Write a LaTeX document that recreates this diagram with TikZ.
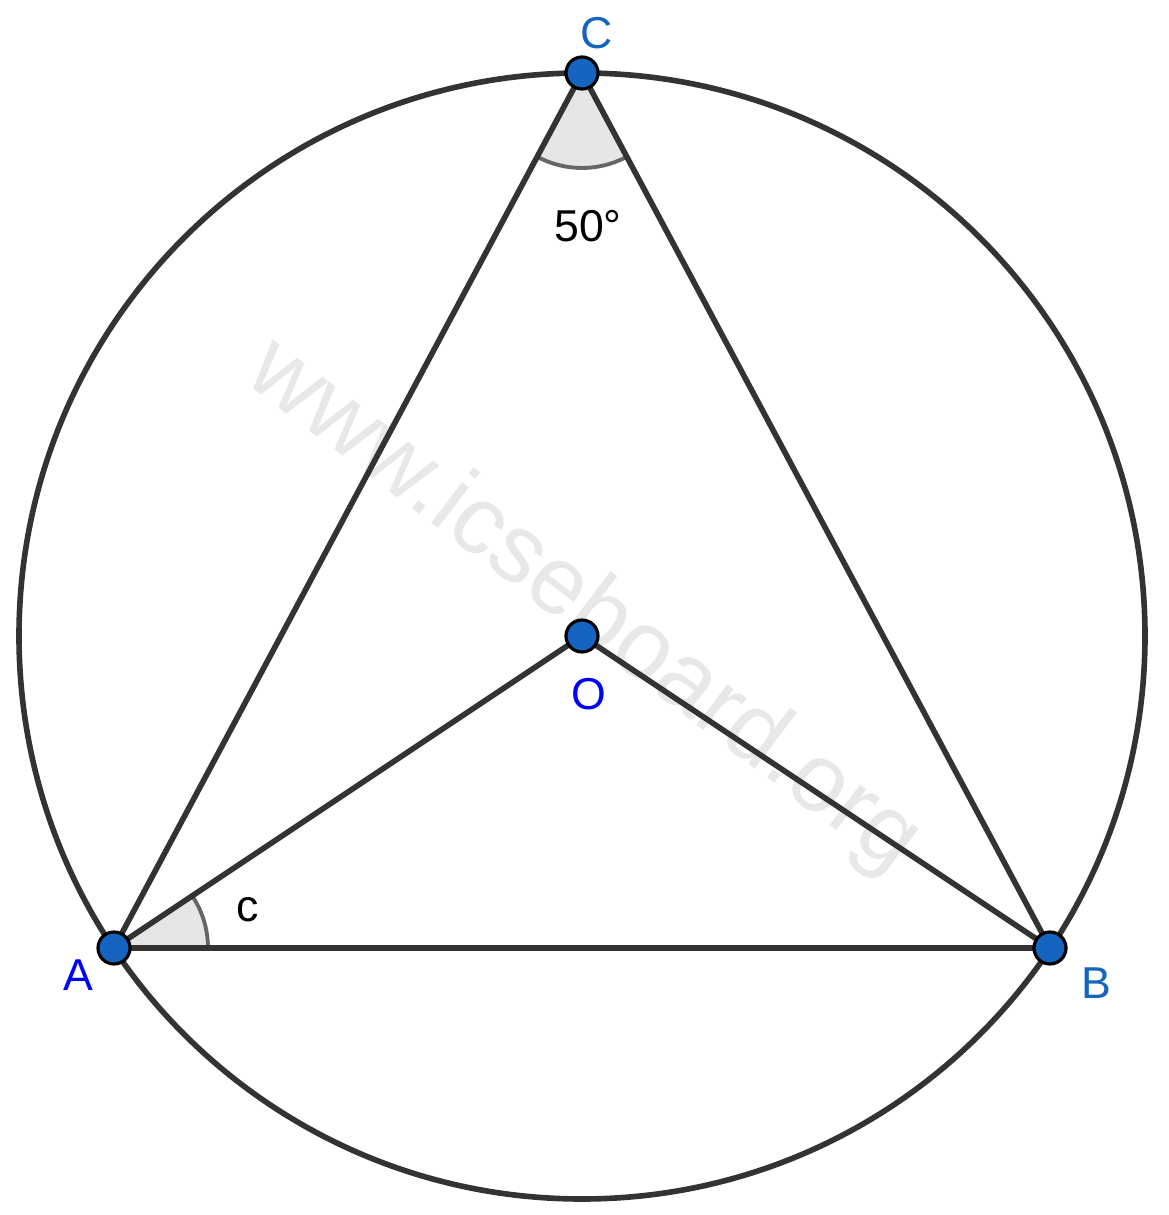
\documentclass[tikz,border=0pt]{standalone}
\usepackage{fontspec}
\setmainfont{Liberation Sans}
\usepackage{tikz}
\usetikzlibrary{positioning}
\definecolor{linegray}{HTML}{333333}
\definecolor{dotblue}{HTML}{1565C0}
\definecolor{wedgegray}{HTML}{E6E6E6}
\definecolor{arcgray}{HTML}{666666}
\definecolor{markgray}{HTML}{E8E8E8}
\tikzset{
	seg/.style={draw=linegray, line width=1.6pt},
	pt/.style={circle, fill=dotblue, draw=black, line width=0.9pt, inner sep=0pt, minimum size=0.32cm},
	lbl/.style={font=\fontsize{12.7}{15}\selectfont, inner sep=0pt}
}
\newcommand{\anglemark}[4]{
	\fill[wedgegray] (#1) -- ++(#2:#4) arc (#2:#3:#4) -- cycle;
	\draw[arcgray, line width=1.1pt] (#1) ++(#2:#4) arc (#2:#3:#4);
}

\begin{document}
\begin{tikzpicture}
	\useasboundingbox (0,0) rectangle (11.68,12.15);
	% watermark
	\node[text=markgray, font=\fontsize{27.5}{32}\selectfont, rotate=-37.2] (mark) at (5.83,6.08) {www.icseboard.org};
	% points
	\coordinate (o) at (5.82,5.79);
	\coordinate (c) at (5.82,11.42);
	\coordinate (a) at (1.14,2.67);
	\coordinate (b) at (10.50,2.67);
	% angle marks
	\anglemark{c}{241.86}{298.14}{0.95}
	\anglemark{a}{0}{33.69}{0.94}
	% circle and chords
	\draw[seg] (o) circle (5.63);
	\draw[seg] (a) -- (c) -- (b) -- cycle;
	\draw[seg] (a) -- (o) -- (b);
	% dots
	\node[pt] (dc) at (c) {};
	\node[pt] (da) at (a) {};
	\node[pt] (db) at (b) {};
	\node[pt] (do) at (o) {};
	% labels
	\node[lbl, text=dotblue] (lc) at (5.97,11.82) {C};
	\node[lbl, text=blue] (la) at (0.78,2.40) {A};
	\node[lbl, text=dotblue] (lb) at (10.96,2.32) {B};
	\node[lbl, text=blue] (lo) at (5.89,5.21) {O};
	\node[lbl] (angc) at (5.88,9.89) {50°};
	\node[lbl] (anga) at (2.48,3.05) {c};
\end{tikzpicture}
\end{document}
